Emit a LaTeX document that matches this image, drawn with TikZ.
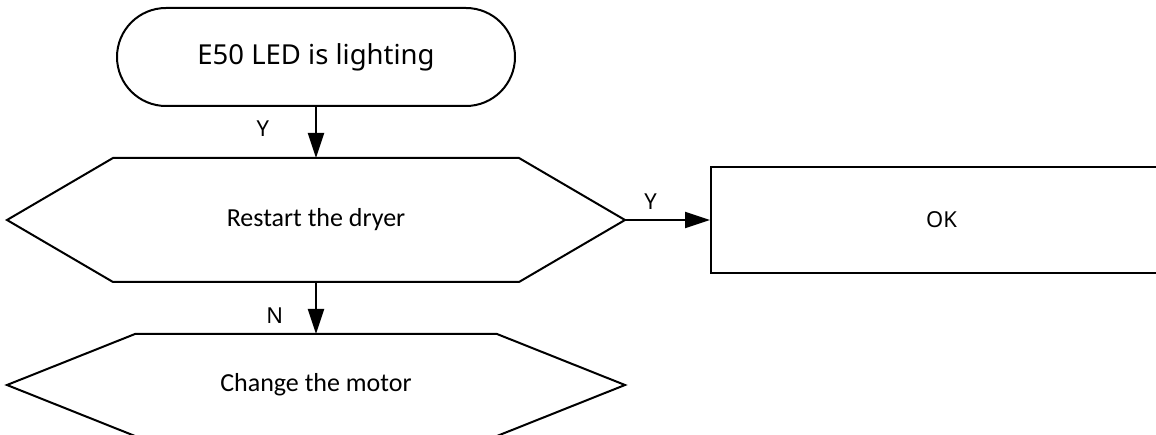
\documentclass[tikz,border=0pt]{standalone}
\usepackage{fontspec}
\setmainfont{Noto Sans}
\newfontfamily\hexfont{Carlito}
\usepackage{tikz}
\usetikzlibrary{arrows.meta,positioning}

\begin{document}
\begin{tikzpicture}[
x=1pt, y=1pt,
line width=2pt,
term/.style={draw, rounded corners=49pt, minimum width=398pt, minimum height=98pt, font=\fontsize{27.5}{32}\selectfont},
hexa/.style={minimum width=616pt, inner sep=0pt, font=\hexfont\fontsize{26}{30}\selectfont},
okbox/.style={draw, minimum width=461pt, minimum height=106pt, font=\fontsize{22}{26}\selectfont},
lbl/.style={inner sep=0pt, font=\fontsize{22}{26}\selectfont},
arr/.style={-{Triangle[length=25pt, width=16pt]}}
]
\useasboundingbox (0,0) rectangle (1156,-435);
\clip (0,0) rectangle (1156,-435);

\node[term] (start) at (316,-57) {E50 LED is lighting};
\node[hexa, minimum height=122pt, below=51pt of start] (restart) {Restart the dryer};
\node[hexa, minimum height=100pt, below=52pt of restart] (motor) {Change the motor};
\node[okbox, right=85pt of restart] (ok) {OK};

% hexagon outlines
\draw (restart.west) -- ([xshift=106pt]restart.north west) -- ([xshift=-106pt]restart.north east)
  -- (restart.east) -- ([xshift=-106pt]restart.south east) -- ([xshift=106pt]restart.south west) -- cycle;
\draw (motor.west) -- ([xshift=128pt]motor.north west) -- ([xshift=-128pt]motor.north east)
  -- (motor.east) -- ([xshift=-128pt]motor.south east) -- ([xshift=128pt]motor.south west) -- cycle;

\draw[arr] (start) -- node[lbl, left=46pt, yshift=4pt] {Y} (restart);
\draw[arr] (restart.east) -- node[lbl, above=9pt, xshift=-17pt] {Y} (restart.east -| ok.west);
\draw[arr] (restart) -- node[lbl, left=32pt, yshift=-8pt] {N} (motor);
\end{tikzpicture}
\end{document}
